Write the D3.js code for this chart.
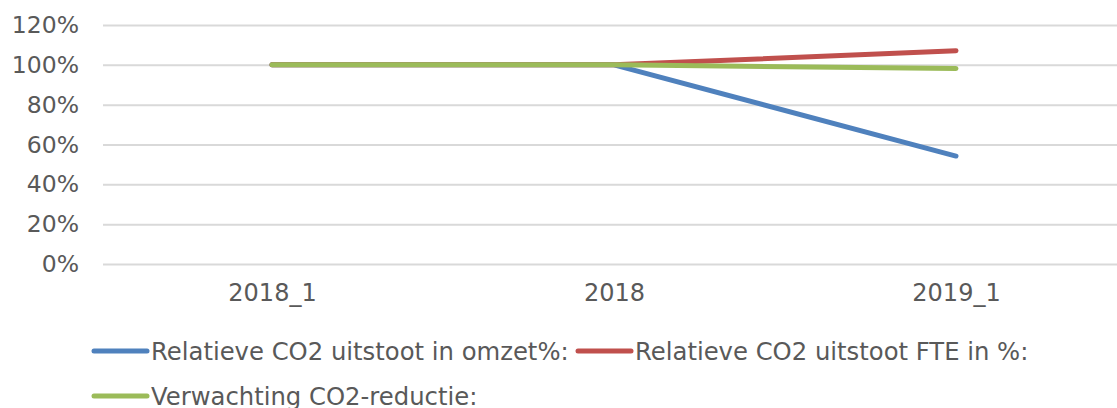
<!DOCTYPE html>
<html>
<head>
<meta charset="utf-8">
<script src="https://cdn.jsdelivr.net/npm/d3@7"></script>
<style>
  body { margin: 0; background: #fff; }
  text { font-family: "DejaVu Sans", Verdana, sans-serif; fill: #595959; }
</style>
</head>
<body>
<script>
// Data
var categories = ["2018_1", "2018", "2019_1"];
var seriesNames = ["Relatieve CO2 uitstoot in omzet%:", "Relatieve CO2 uitstoot FTE in %:", "Verwachting CO2-reductie:"];
var omzetValues = [1.00, 1.00, 0.542];
var fteValues = [1.00, 1.00, 1.071];
var reductieValues = [1.00, 1.00, 0.982];
var yTicks = [0, 0.2, 0.4, 0.6, 0.8, 1.0, 1.2];
var colors = ["#4F81BD", "#C0504D", "#9BBB59"];

var width = 1117, height = 408;
var margin = {top: 25, left: 101, right: -10, bottom: 144};

var svg = d3.select("body").append("svg")
	.attr("width", width)
	.attr("height", height);

var xScale = d3.scalePoint()
	.domain(categories)
	.range([margin.left, width - margin.right])
	.padding(0.5);

var yScale = d3.scaleLinear()
	.domain([0, 1.2])
	.range([height - margin.bottom, margin.top]);

// gridlines + y labels
var yAxis = d3.axisLeft(yScale)
	.tickValues(yTicks)
	.tickSize(-(width - margin.right - margin.left - 2))
	.tickPadding(24)
	.tickFormat(d3.format(".0%"));

var yg = svg.append("g")
	.attr("transform", "translate(" + (margin.left + 2) + ",0)")
	.call(yAxis);
yg.select(".domain").remove();
yg.selectAll("line").attr("stroke", "#d9d9d9").attr("stroke-width", 2);
yg.selectAll("text").style("font-size", "23.5px").attr("fill", "#595959");

// x labels
var xAxis = d3.axisBottom(xScale).tickSize(0).tickPadding(20);
var xg = svg.append("g")
	.attr("transform", "translate(0," + (height - margin.bottom) + ")")
	.call(xAxis);
xg.select(".domain").remove();
xg.selectAll("text")
	.style("font-size", "24px")
	.attr("fill", "#595959");

// lines
var allSeries = [omzetValues, fteValues, reductieValues];
var line = d3.line()
	.x(function(d, i) { return xScale(categories[i]); })
	.y(function(d) { return yScale(d); });

allSeries.forEach(function(vals, i) {
	svg.append("path")
		.datum(vals)
		.attr("d", line)
		.attr("fill", "none")
		.attr("stroke", colors[i])
		.attr("stroke-width", 5)
		.attr("stroke-linecap", "round")
		.attr("stroke-linejoin", "round");
});

// legend
var legendItems = [
	{x: 92, y: 351, i: 0},
	{x: 576, y: 351, i: 1},
	{x: 92, y: 396, i: 2}
];
var lg = svg.append("g");
legendItems.forEach(function(it) {
	lg.append("line")
		.attr("x1", it.x + 2).attr("x2", it.x + 55)
		.attr("y1", it.y).attr("y2", it.y)
		.attr("stroke", colors[it.i])
		.attr("stroke-width", 5)
		.attr("stroke-linecap", "round");
	lg.append("text")
		.attr("x", it.x + 59)
		.attr("y", it.y)
		.attr("dy", "0.35em")
		.style("font-size", "24.3px")
		.text(seriesNames[it.i]);
});
</script>
</body>
</html>
